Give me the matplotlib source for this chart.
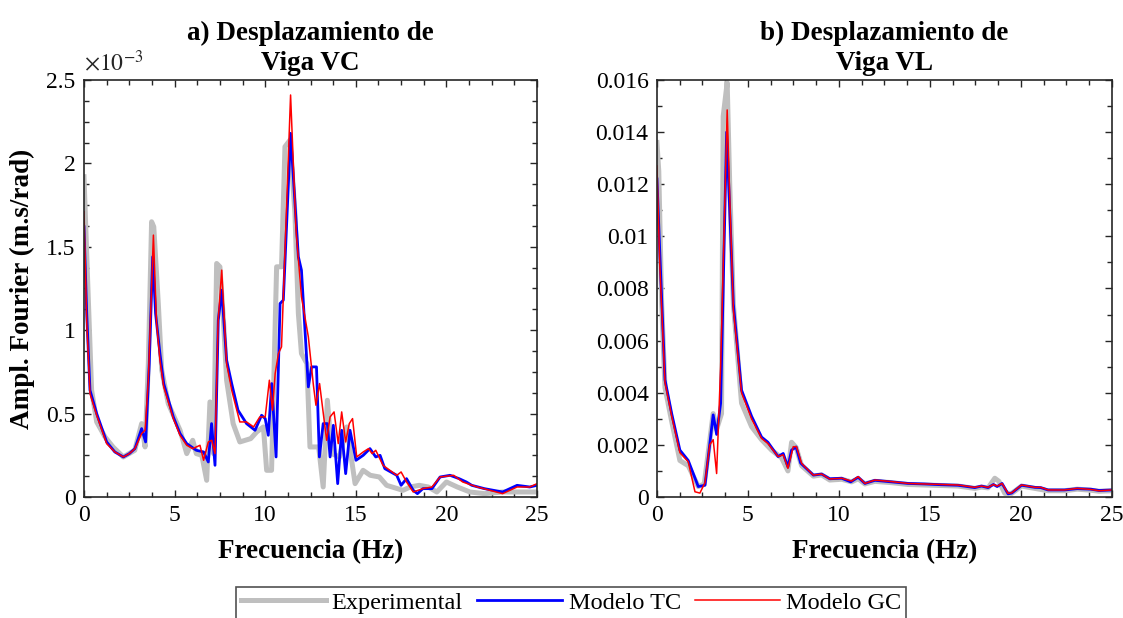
import matplotlib
matplotlib.use("Agg")
import matplotlib.pyplot as plt
from matplotlib.ticker import MultipleLocator, FuncFormatter
import numpy as np

plt.rcParams['font.family'] = ['Liberation Serif', 'DejaVu Serif']
plt.rcParams['mathtext.fontset'] = 'stix'

# --- Viga VC (amplitudes in units of 1e-3 m.s/rad) ---
exp_vc_f = [0.0, 0.2, 0.42, 0.7, 1.16, 1.6, 2.17, 2.8, 3.18, 3.37, 3.55, 3.73, 3.85, 4.1, 4.29,
            4.65, 5.3, 5.67, 6.0, 6.2, 6.5, 6.77, 6.95, 7.15, 7.32, 7.5, 7.7, 7.87, 8.23, 8.6,
            9.2, 9.53, 9.9, 10.08, 10.35, 10.63, 10.9, 11.09, 11.37, 11.64, 11.83, 12.0, 12.3,
            12.47, 12.7, 12.95, 13.2, 13.43, 13.67, 14.1, 14.5, 14.96, 15.4, 15.8, 16.3, 16.7,
            17.6, 18.0, 18.5, 19.0, 19.47, 20.0, 20.6, 21.3, 22.1, 23.1, 23.9, 25.0]
exp_vc = [1.92, 1.30, 0.64, 0.45, 0.36, 0.30, 0.24, 0.28, 0.44, 0.30, 0.80, 1.65, 1.62, 1.16, 0.76,
          0.56, 0.40, 0.26, 0.34, 0.26, 0.25, 0.10, 0.57, 0.26, 1.40, 1.38, 1.05, 0.70, 0.44, 0.33,
          0.35, 0.39, 0.42, 0.16, 0.16, 1.38, 1.38, 2.10, 2.14, 1.70, 1.10, 0.86, 0.80,
          0.30, 0.30, 0.30, 0.06, 0.58, 0.26, 0.24, 0.42, 0.08, 0.16, 0.13, 0.12, 0.07,
          0.04, 0.06, 0.07, 0.06, 0.03, 0.09, 0.06, 0.03, 0.02, 0.03, 0.03, 0.03]

tc_vc_f = [0.0, 0.15, 0.33, 0.7, 1.25, 1.7, 2.17, 2.5, 2.81, 3.18, 3.4, 3.6, 3.79, 3.95, 4.19,
           4.4, 4.93, 5.3, 5.67, 6.2, 6.6, 6.86, 7.04, 7.23, 7.41, 7.6, 7.87, 8.15, 8.5, 8.97,
           9.44, 9.8, 10.0, 10.17, 10.36, 10.6, 10.82, 11.0, 11.4, 11.83, 12.0, 12.38, 12.56,
           12.83, 12.99, 13.2, 13.43, 13.58, 13.76, 14.0, 14.22, 14.44, 14.68, 15.01, 15.41,
           15.78, 16.1, 16.34, 16.6, 17.26, 17.5, 17.8, 18.17, 18.4, 18.7, 19.2, 19.65, 20.2,
           20.7, 21.1, 21.4, 22.1, 23.1, 23.9, 24.6, 25.0]
tc_vc = [1.62, 1.10, 0.64, 0.50, 0.33, 0.27, 0.24, 0.26, 0.29, 0.41, 0.33, 0.80, 1.44, 1.10, 0.86,
         0.68, 0.48, 0.38, 0.32, 0.28, 0.27, 0.21, 0.44, 0.19, 1.06, 1.24, 0.82, 0.68, 0.52, 0.44,
         0.40, 0.49, 0.47, 0.37, 0.68, 0.24, 1.16, 1.18, 2.18, 1.44, 1.36, 0.66, 0.78,
         0.78, 0.24, 0.44, 0.44, 0.24, 0.43, 0.08, 0.40, 0.14, 0.40, 0.22, 0.25,
         0.29, 0.24, 0.25, 0.17, 0.13, 0.07, 0.11, 0.04, 0.02, 0.05, 0.05, 0.12, 0.13,
         0.11, 0.09, 0.07, 0.05, 0.03, 0.07, 0.06, 0.07]

gc_vc_f = [0.0, 0.15, 0.33, 0.7, 1.25, 1.7, 2.17, 2.5, 2.81, 3.18, 3.37, 3.55, 3.83, 4.0, 4.19,
           4.4, 4.93, 5.3, 5.67, 6.0, 6.4, 6.6, 6.86, 7.05, 7.23, 7.4, 7.6, 7.87, 8.15, 8.6,
           8.97, 9.36, 9.7, 10.0, 10.23, 10.4, 10.55, 10.73, 10.9, 11.4, 11.7, 12.0, 12.38,
           12.66, 12.8, 13.0, 13.39, 13.58, 13.8, 14.03, 14.22, 14.44, 14.64, 14.82, 15.05,
           15.41, 15.7, 15.9, 16.1, 16.5, 17.26, 17.5, 17.8, 18.17, 18.7, 19.2, 19.65, 20.4,
           20.9, 21.7, 23.1, 23.9, 24.6, 25.0]
gc_vc = [1.71, 1.05, 0.62, 0.49, 0.32, 0.27, 0.24, 0.26, 0.29, 0.38, 0.40, 0.70, 1.57, 1.05, 0.82,
         0.66, 0.47, 0.37, 0.31, 0.29, 0.31, 0.22, 0.33, 0.34, 0.26, 1.05, 1.36, 0.80, 0.64, 0.45,
         0.45, 0.42, 0.48, 0.48, 0.70, 0.52, 0.74, 0.86, 0.90, 2.41, 1.60, 1.20, 0.96,
         0.67, 0.55, 0.68, 0.34, 0.48, 0.51, 0.32, 0.51, 0.33, 0.44, 0.47, 0.24,
         0.27, 0.29, 0.26, 0.28, 0.19, 0.13, 0.15, 0.09, 0.03, 0.05, 0.06, 0.12, 0.13,
         0.09, 0.06, 0.02, 0.06, 0.06, 0.08]

# --- Viga VL (amplitudes in units of 1e-3 m.s/rad) ---
exp_vl_f = [0.0, 0.1, 0.26, 0.44, 0.81, 1.26, 1.72, 2.27, 2.6, 3.09, 3.28, 3.55, 3.64, 3.86, 4.0,
            4.2, 4.65, 5.2, 5.75, 6.3, 6.85, 7.2, 7.4, 7.65, 7.95, 8.6, 9.05, 9.5, 10.15, 10.7,
            11.06, 11.43, 11.98, 12.9, 13.8, 14.7, 15.64, 16.55, 17.47, 17.84, 18.2, 18.57, 18.8,
            19.12, 19.5, 20.04, 20.77, 21.5, 22.4, 23.1, 23.85, 24.3, 25.0]
exp_vl = [13.6, 12.5, 7.4, 4.2, 2.9, 1.4, 1.2, 0.40, 0.50, 3.2, 2.6, 3.2, 14.6, 15.9, 12.0,
          7.4, 3.6, 2.7, 2.2, 1.8, 1.5, 1.0, 2.1, 1.9, 1.2, 0.80, 0.85, 0.65, 0.68, 0.58,
          0.70, 0.50, 0.60, 0.55, 0.48, 0.46, 0.44, 0.42, 0.33, 0.38, 0.35, 0.72, 0.60,
          0.14, 0.14, 0.42, 0.33, 0.24, 0.24, 0.30, 0.26, 0.22, 0.24]

tc_vl_f = [0.0, 0.15, 0.44, 0.81, 1.26, 1.72, 2.27, 2.64, 3.09, 3.28, 3.5, 3.83, 4.0, 4.2, 4.65,
           5.2, 5.75, 6.1, 6.66, 6.94, 7.2, 7.4, 7.65, 7.9, 8.6, 9.05, 9.5, 10.15, 10.65, 11.06,
           11.43, 11.98, 12.9, 13.8, 14.7, 15.64, 16.55, 17.47, 17.84, 18.2, 18.5, 18.7, 18.97,
           19.3, 19.5, 20.04, 20.77, 21.1, 21.5, 22.4, 23.1, 23.85, 24.3, 25.0]
tc_vl = [12.2, 9.5, 4.5, 3.2, 1.8, 1.4, 0.40, 0.45, 3.15, 2.4, 3.6, 14.0, 11.0, 7.4, 4.1,
         3.1, 2.3, 2.1, 1.55, 1.67, 1.15, 1.8, 1.92, 1.3, 0.84, 0.88, 0.70, 0.72, 0.58, 0.76,
         0.52, 0.64, 0.58, 0.52, 0.50, 0.47, 0.45, 0.36, 0.42, 0.36, 0.48, 0.40, 0.52,
         0.12, 0.15, 0.45, 0.37, 0.36, 0.27, 0.27, 0.32, 0.30, 0.25, 0.27]

gc_vl_f = [0.0, 0.15, 0.44, 0.81, 1.26, 1.72, 2.09, 2.36, 2.64, 2.9, 3.09, 3.28, 3.5, 3.86, 4.0,
           4.2, 4.65, 5.2, 5.75, 6.1, 6.66, 6.94, 7.2, 7.49, 7.67, 7.95, 8.59, 9.05, 9.5, 10.15,
           10.7, 11.06, 11.43, 11.98, 12.9, 13.8, 14.7, 15.64, 16.55, 17.47, 17.84, 18.2, 18.5,
           18.7, 18.97, 19.3, 19.5, 20.04, 20.77, 21.1, 21.5, 22.4, 23.1, 23.85, 24.3, 25.0]
gc_vl = [12.7, 9.0, 4.4, 3.1, 1.7, 1.35, 0.20, 0.15, 0.55, 2.0, 2.2, 0.9, 5.0, 14.85, 11.5,
         7.2, 4.0, 3.0, 2.25, 2.05, 1.55, 1.62, 1.10, 1.93, 1.93, 1.29, 0.84, 0.88, 0.69, 0.72,
         0.61, 0.78, 0.52, 0.65, 0.59, 0.52, 0.50, 0.48, 0.46, 0.37, 0.42, 0.37, 0.48,
         0.42, 0.52, 0.14, 0.16, 0.46, 0.37, 0.37, 0.27, 0.27, 0.33, 0.29, 0.24, 0.27]

scale = 1e-3
titles = ["a) Desplazamiento de\nViga VC", "b) Desplazamiento de\nViga VL"]
legend_labels = ["Experimental", "Modelo TC", "Modelo GC"]

fig = plt.figure(figsize=(11.23, 6.18), dpi=100)
ax1 = fig.add_axes([0.0748, 0.1958, 0.4034, 0.6748])
ax2 = fig.add_axes([0.585, 0.1958, 0.405, 0.6748])

series = [
    (ax1, (exp_vc_f, exp_vc), (tc_vc_f, tc_vc), (gc_vc_f, gc_vc)),
    (ax2, (exp_vl_f, exp_vl), (tc_vl_f, tc_vl), (gc_vl_f, gc_vl)),
]
for ax, exp, tc, gc in series:
    ax.plot(exp[0], np.array(exp[1]) * scale, color='#bfbfbf', lw=3.6, label=legend_labels[0])
    ax.plot(tc[0], np.array(tc[1]) * scale, color='#0000ff', lw=2.0, label=legend_labels[1])
    ax.plot(gc[0], np.array(gc[1]) * scale, color='#ff0000', lw=1.1, label=legend_labels[2])

for ax, title in zip([ax1, ax2], titles):
    ax.set_xlim(0, 25)
    ax.xaxis.set_major_locator(MultipleLocator(5))
    ax.xaxis.set_minor_locator(MultipleLocator(1.25))
    ax.set_xlabel("Frecuencia (Hz)", fontsize=19.5, fontweight='bold', labelpad=9)
    ax.set_title(title, fontsize=19.5, fontweight='bold', pad=7, linespacing=1.25)
    ax.tick_params(which='both', direction='in', top=True, right=True, labelsize=17,
                   color='#262626', width=1.0)
    ax.tick_params(which='major', length=5, pad=6)
    ax.tick_params(which='minor', length=3.5)
    for sp in ax.spines.values():
        sp.set_linewidth(1.2)
        sp.set_color('#262626')

ax1.set_ylim(0, 2.5e-3)
ax1.yaxis.set_major_locator(MultipleLocator(0.5e-3))
ax1.yaxis.set_minor_locator(MultipleLocator(0.125e-3))
ax1.yaxis.set_major_formatter(FuncFormatter(lambda v, p: f"{v / scale:g}"))
ax1.text(0.0, 1.01, r"$\times10^{-3}$", transform=ax1.transAxes, fontsize=17,
         ha='left', va='bottom', color='#262626')
ax1.set_ylabel("Ampl. Fourier (m.s/rad)", fontsize=19.5, fontweight='bold', labelpad=8)

ax2.set_ylim(0, 0.016)
ax2.yaxis.set_major_locator(MultipleLocator(0.002))
ax2.yaxis.set_minor_locator(MultipleLocator(0.001))
ax2.yaxis.set_major_formatter(FuncFormatter(lambda v, p: f"{v:g}"))

handles, labels = ax1.get_legend_handles_labels()
leg = fig.legend(handles, labels, loc='upper center', bbox_to_anchor=(571 / 1123, 1 - 587 / 618),
                 borderaxespad=0, ncol=3, fontsize=17.5, frameon=True, fancybox=False,
                 edgecolor='#262626', handlelength=3.5, handletextpad=0.25, columnspacing=0.6,
                 borderpad=0.2)
leg.get_frame().set_linewidth(1.2)

fig.savefig("out.png", dpi=100)
